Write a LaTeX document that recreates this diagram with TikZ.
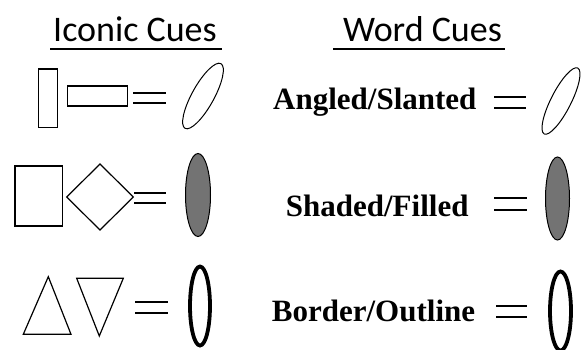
\documentclass[tikz,border=0pt]{standalone}
\usepackage{fontspec}
\newfontfamily\cuefont{Carlito}
\newfontfamily\wordfont{Liberation Serif}
\usetikzlibrary{positioning}

\begin{document}
\begin{tikzpicture}[
  x=1pt, y=1pt,
  head/.style={font=\cuefont\fontsize{36}{40}\selectfont, inner sep=0pt, anchor=base west},
  word/.style={font=\wordfont\bfseries\fontsize{31}{34}\selectfont, inner sep=0pt, anchor=base west},
  uline/.style={line width=1.5pt},
  outline/.style={draw, line width=1.2pt, line join=miter},
  eqbar/.style={line width=2.3pt},
  oval/.style={draw, line width=1pt},
  filled/.style={draw, line width=1pt, fill=black!55},
  bold oval/.style={draw, line width=3.8pt}]
\useasboundingbox (0,0) rectangle (581,-349);
% column headings
\node[head] (iconic) at (53,-41.5) {Iconic Cues};
\node[head] (wordcue) at (343,-41) {Word Cues};
\draw[uline] (50,-49) -- (222,-49);
\draw[uline] (333,-49) -- (505,-49);
% iconic cues, row by row
\draw[outline] (38.3,-69) rectangle (57.3,-127.7);
\draw[outline] (67.7,-86) rectangle (127.3,-106);
\draw[outline] (15,-166) rectangle (62.7,-226);
\draw[outline] (66.7,-197) -- (100,-164) -- (133.3,-197) -- (100,-230) -- cycle;
\draw[outline] (48.3,-276.7) -- (23.3,-334.3) -- (71,-334.3) -- cycle;
\draw[outline] (76.7,-278.3) -- (123.3,-278.3) -- (99.3,-336) -- cycle;
\foreach \xa/\xb/\ya/\yb in {133/166/92.7/102.7, 134/166/192.7/203.3, 135/168.3/302.3/312.7}
  \draw[eqbar] (\xa,-\ya) -- (\xb,-\ya) (\xa,-\yb) -- (\xb,-\yb);
\draw[oval] (203,-96) ellipse [x radius=37, y radius=11, rotate=61];
\draw[filled] (198,-195) ellipse [x radius=12.5, y radius=41.5];
\draw[bold oval] (200,-306) ellipse [x radius=10, y radius=39.5];
% word cues
\node[word] (angled) at (273,-109) {Angled/Slanted};
\node[word] (shaded) at (285.7,-216.5) {Shaded/Filled};
\node[word] (border) at (271.7,-321.5) {Border/Outline};
\foreach \xa/\xb/\ya/\yb in {494/526/96.7/107.7, 494/526.7/197.7/210, 496/527/306/316.7}
  \draw[eqbar] (\xa,-\ya) -- (\xb,-\ya) (\xa,-\yb) -- (\xb,-\yb);
\draw[oval] (561,-101) ellipse [x radius=37, y radius=10, rotate=63];
\draw[filled] (557.5,-198.5) ellipse [x radius=12, y radius=41.5];
\draw[bold oval] (560.5,-311) ellipse [x radius=10.5, y radius=39.5];
\end{tikzpicture}
\end{document}
